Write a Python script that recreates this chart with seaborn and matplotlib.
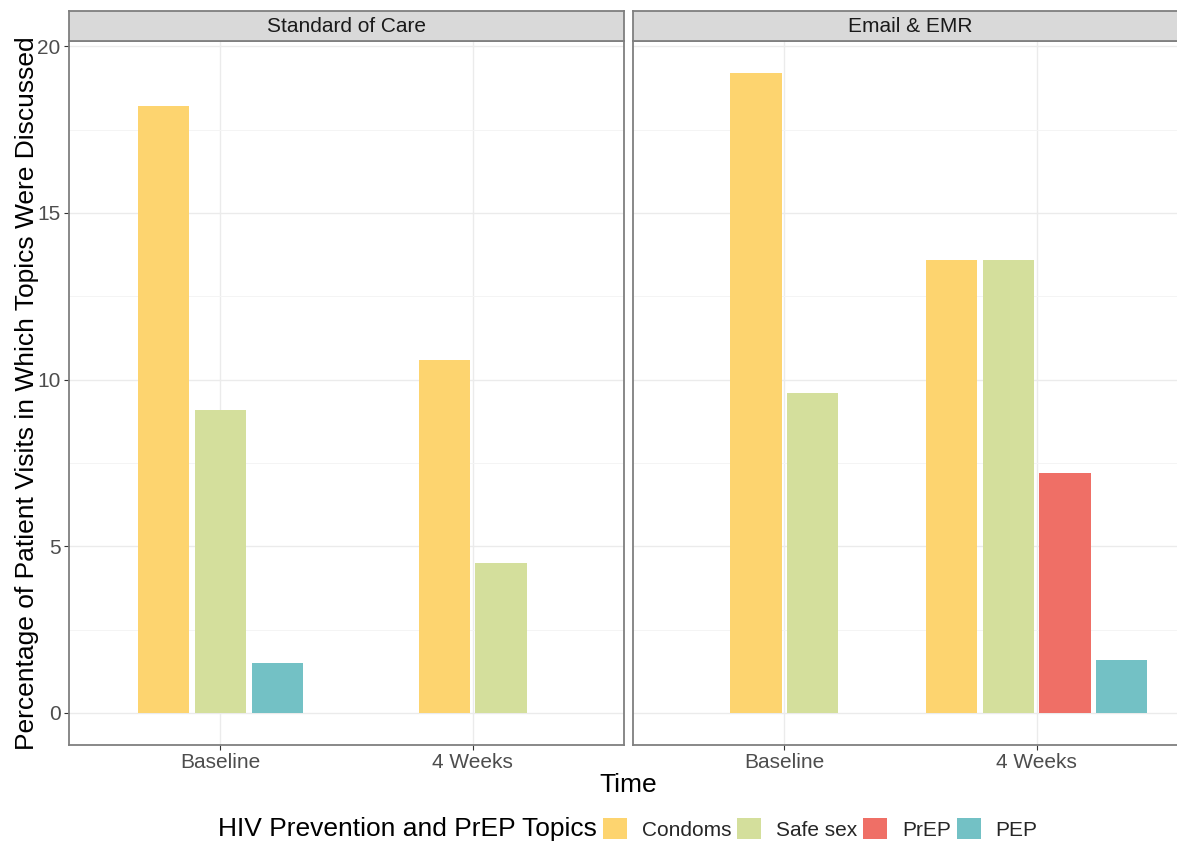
import pandas as pd
import matplotlib
matplotlib.use("Agg")
import matplotlib.pyplot as plt
from matplotlib.patches import Patch
from matplotlib.ticker import MultipleLocator
import seaborn as sns

groups = ["Standard of Care", "Email & EMR"]
times = ["Baseline", "4 Weeks"]
topics = ["Condoms", "Safe sex", "PrEP", "PEP"]
colors = ["#FDD46F", "#D4DF9C", "#EF6F66", "#73C1C5"]

# percent of visits per topic, None = no bar for that topic
soc_baseline = [18.2, 9.1, None, 1.5]
soc_4weeks = [10.6, 4.5, None, None]
emr_baseline = [19.2, 9.6, None, None]
emr_4weeks = [13.6, 13.6, 7.2, 1.6]

# ggplot-style dodge: present bars are packed and centred on the time slot
slot = 0.9 / len(topics)
rows = []
for g, per_time in zip(groups, [[soc_baseline, soc_4weeks], [emr_baseline, emr_4weeks]]):
    for ti, vals in enumerate(per_time):
        present = [(t, v) for t, v in zip(topics, vals) if v is not None]
        k = len(present)
        for j, (t, v) in enumerate(present):
            rows.append(dict(group=g, time=times[ti], topic=t,
                             pos=ti + (j - (k - 1) / 2) * slot, pct=v))
df = pd.DataFrame(rows)

sns.set_theme(style="white")
plt.rcParams["font.family"] = ["Liberation Sans", "DejaVu Sans"]

W, H = 1177, 843
fig = plt.figure(figsize=(W / 100, H / 100), dpi=100)

pal = dict(zip(topics, colors))
panel_w = 555
lefts = [69, 633]
top, bottom, strip_top = 41, 745, 11
border = "#7f7f7f"

for i, g in enumerate(groups):
    ax = fig.add_axes([lefts[i] / W, 1 - bottom / H, panel_w / W, (bottom - top) / H])
    sub = df[df.group == g]
    sns.barplot(data=sub, x="pos", y="pct", hue="topic", hue_order=topics,
                palette=pal, saturation=1, native_scale=True, dodge=False, width=0.9,
                linewidth=0, errorbar=None, legend=False, ax=ax, zorder=2)
    ax.set_xlim(-0.6, 1.6)
    ax.set_ylim(-0.96, 20.16)
    ax.set_xticks([0, 1])
    ax.set_xticklabels(times)
    ax.yaxis.set_major_locator(MultipleLocator(5))
    ax.yaxis.set_minor_locator(MultipleLocator(2.5))
    ax.set_axisbelow(True)
    ax.grid(which="major", color="#ebebeb", lw=1.0)
    ax.grid(which="minor", axis="y", color="#f4f4f4", lw=0.7)
    ax.tick_params(axis="both", which="major", length=3.5, width=0.8, color="#333333",
                   labelsize=15, labelcolor="#4d4d4d", pad=2.5,
                   bottom=True, left=(i == 0), labelleft=(i == 0))
    ax.tick_params(which="minor", length=0)
    ax.set_xlabel("")
    ax.set_ylabel("")
    for s in ax.spines.values():
        s.set_visible(True)
        s.set_color(border)
        s.set_linewidth(1.3)

    sax = fig.add_axes([lefts[i] / W, 1 - top / H, panel_w / W, (top - strip_top) / H])
    sax.set_facecolor("#d9d9d9")
    sax.set_xticks([])
    sax.set_yticks([])
    for s in sax.spines.values():
        s.set_color(border)
        s.set_linewidth(1.3)
    sax.text(0.5, 0.5, g, ha="center", va="center", fontsize=15, color="#1a1a1a",
             transform=sax.transAxes)

fig.text(27 / W, 1 - 393 / H, "Percentage of Patient Visits in Which Topics Were Discussed",
         rotation=90, ha="center", va="center", fontsize=19, color="black")
fig.text(628 / W, 1 - 785 / H, "Time", ha="center", va="center", fontsize=19, color="black")

fig.text(597 / W, 1 - 829 / H, "HIV Prevention and PrEP Topics", ha="right", va="center",
         fontsize=19, color="black")
handles = [Patch(facecolor=c, edgecolor="none") for c in colors]
fig.legend(handles, topics, loc="center left", bbox_to_anchor=(603 / W, 1 - 829 / H),
           ncol=4, frameon=False, fontsize=15, handlelength=1.15, handleheight=1.15,
           handletextpad=0.7, columnspacing=0.3, borderpad=0, borderaxespad=0)

fig.savefig("out.png", dpi=100)
